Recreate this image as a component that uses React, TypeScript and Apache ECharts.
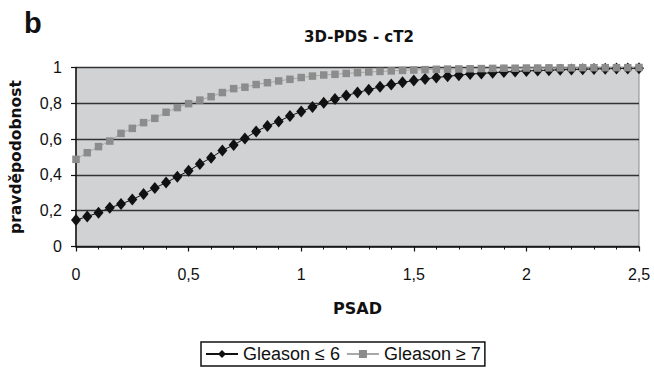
import React, { useEffect, useRef } from "react";
import * as echarts from "echarts";

const psad = [
  0, 0.05, 0.1, 0.15, 0.2, 0.25, 0.3, 0.35, 0.4, 0.45,
  0.5, 0.55, 0.6, 0.65, 0.7, 0.75, 0.8, 0.85, 0.9, 0.95,
  1.0, 1.05, 1.1, 1.15, 1.2, 1.25, 1.3, 1.35, 1.4, 1.45,
  1.5, 1.55, 1.6, 1.65, 1.7, 1.75, 1.8, 1.85, 1.9, 1.95,
  2.0, 2.05, 2.1, 2.15, 2.2, 2.25, 2.3, 2.35, 2.4, 2.45, 2.5,
];

const gleasonLow = [
  0.148, 0.167, 0.189, 0.216, 0.237, 0.262, 0.293, 0.327, 0.357, 0.39,
  0.423, 0.461, 0.496, 0.537, 0.567, 0.603, 0.643, 0.673, 0.699, 0.729,
  0.754, 0.779, 0.803, 0.824, 0.843, 0.86, 0.876, 0.892, 0.905, 0.917,
  0.927, 0.936, 0.944, 0.951, 0.957, 0.963, 0.967, 0.971, 0.975, 0.978,
  0.981, 0.983, 0.985, 0.987, 0.989, 0.99, 0.992, 0.993, 0.994, 0.995, 0.996,
];

const gleasonHigh = [
  0.487, 0.524, 0.558, 0.589, 0.632, 0.66, 0.692, 0.716, 0.75, 0.776,
  0.798, 0.818, 0.837, 0.86, 0.882, 0.89, 0.905, 0.915, 0.925, 0.934,
  0.944, 0.952, 0.958, 0.962, 0.967, 0.971, 0.975, 0.978, 0.981, 0.984,
  0.986, 0.988, 0.99, 0.991, 0.992, 0.993, 0.994, 0.995, 0.996, 0.996,
  0.997, 0.997, 0.998, 0.998, 0.998, 0.999, 0.999, 0.999, 0.999, 0.999, 1.0,
];

const seriesNames = ["Gleason ≤ 6", "Gleason ≥ 7"];
const titleText = "3D-PDS - cT2";
const panelLabel = "b";
const xName = "PSAD";
const yName = "pravděpodobnost";

const FONT = "'Liberation Sans', Arial, sans-serif";
const BOLDFONT = "'DejaVu Sans', sans-serif";

export default function App() {
  const ref = useRef<HTMLDivElement>(null);
  useEffect(() => {
    if (!ref.current) return;
    const chart = echarts.init(ref.current, null, { renderer: "svg" });
    const fmt = (v: number) => String(v).replace(".", ",");
    chart.setOption({
      animation: false,
      backgroundColor: "#ffffff",
      textStyle: { fontFamily: FONT },
      title: {
        text: titleText,
        left: 354,
        top: 24,
        textAlign: "center",
        textStyle: { fontFamily: BOLDFONT, fontWeight: "bold", fontSize: 15, color: "#111" },
      },
      graphic: [
        {
          type: "text",
          left: 24,
          top: 8,
          style: { text: panelLabel, font: `bold 29px ${FONT}`, fill: "#111" },
        },
      ],
      legend: {
        left: 201,
        top: 342,
        itemGap: 6,
        itemWidth: 32,
        itemHeight: 10,
        padding: [3, 4, 3, 4],
        borderColor: "#111",
        borderWidth: 1.5,
        backgroundColor: "#fff",
        textStyle: { fontFamily: FONT, fontSize: 18, color: "#111" },
        data: seriesNames,
      },
      grid: {
        left: 73,
        right: 15,
        top: 67.5,
        bottom: 122.5,
        show: true,
        backgroundColor: "#d1d2d4",
        borderColor: "#8a8a8a",
        borderWidth: 1,
      },
      xAxis: {
        type: "value",
        min: 0,
        max: 2.5,
        interval: 0.5,
        name: xName,
        nameLocation: "middle",
        nameGap: 54,
        nameTextStyle: { fontFamily: BOLDFONT, fontWeight: "bold", fontSize: 16, color: "#111" },
        axisLine: { show: true, onZero: false, lineStyle: { color: "#111", width: 1.5 } },
        axisTick: { show: true, length: 5, lineStyle: { color: "#111", width: 1.2 } },
        minorTick: { show: true, splitNumber: 5, length: 3, lineStyle: { color: "#111", width: 1 } },
        splitLine: { show: false },
        axisLabel: { formatter: fmt, margin: 20, fontSize: 16, color: "#111", fontFamily: FONT },
      },
      yAxis: {
        type: "value",
        min: 0,
        max: 1,
        interval: 0.2,
        name: yName,
        nameLocation: "middle",
        nameRotate: 90,
        nameGap: 52,
        nameTextStyle: { fontFamily: BOLDFONT, fontWeight: "bold", fontSize: 15.5, color: "#111" },
        axisLine: { show: true, lineStyle: { color: "#111", width: 1.5 } },
        axisTick: { show: true, length: 5, lineStyle: { color: "#111", width: 1.2 } },
        splitLine: { show: true, lineStyle: { color: "#333", width: 1.3 } },
        axisLabel: { formatter: (v: number) => fmt(Math.round(v * 10) / 10), margin: 14, fontSize: 16, color: "#111", fontFamily: FONT },
      },
      series: [
        {
          name: seriesNames[0],
          type: "line",
          data: psad.map((x, i) => [x, gleasonLow[i]]),
          symbol: "diamond",
          symbolSize: [10, 12],
          clip: false,
          itemStyle: { color: "#111" },
          lineStyle: { color: "#111", width: 1 },
        },
        {
          name: seriesNames[1],
          type: "line",
          data: psad.map((x, i) => [x, gleasonHigh[i]]),
          symbol: "rect",
          symbolSize: 7.5,
          clip: false,
          itemStyle: { color: "#8c8c8c" },
          lineStyle: { color: "#a8a8a8", width: 1 },
        },
      ],
    });
    return () => chart.dispose();
  }, []);
  return (
    <div
      ref={ref}
      style={{ position: "absolute", left: 0, top: 0, width: 654, height: 369 }}
    />
  );
}
